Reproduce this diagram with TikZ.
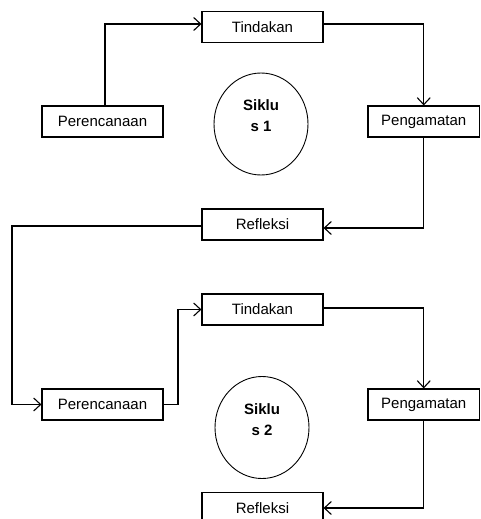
\documentclass[tikz,border=0pt]{standalone}
\usepackage{fontspec}
\setmainfont{Liberation Sans}
\usetikzlibrary{arrows.meta,shapes.geometric}
\begin{document}
\begin{tikzpicture}[x=1pt,y=-1pt,
  box/.style={draw,line width=1.1pt,minimum width=121pt,minimum height=31pt,inner sep=0pt,font=\fontsize{15}{18}\selectfont},
  rbox/.style={box,minimum width=111.5pt},
  cyc/.style={draw,line width=0.9pt,ellipse,minimum width=94pt,minimum height=102pt,inner sep=0pt},
  cyctext/.style={align=center,inner sep=0pt,font=\fontsize{15}{21}\selectfont\bfseries},
  arr/.style={line width=1.1pt,-{Straight Barb[length=7pt,width=13pt,line width=1.1pt]}}]
\useasboundingbox (0,0) rectangle (480,519);
% cycle 1
\node[box] (T1) at (262.5,27) {Tindakan};
\node[box] (P1) at (102.5,121.5) {Perencanaan};
\node[rbox] (G1) at (423.75,121.5) {Pengamatan};
\node[box] (R1) at (262.5,224.5) {Refleksi};
\node[cyc] (E1) at (261,124) {};
\node[cyctext] (L1) at ([yshift=8pt]E1.center) {Siklu\\s 1};
% cycle 2
\node[box] (T2) at (262.5,309.5) {Tindakan};
\node[box] (P2) at (102.5,404.5) {Perencanaan};
\node[rbox] (G2) at (423.75,404.5) {Pengamatan};
\node[box] (R2) at (262.5,508) {Refleksi};
\node[cyc] (E2) at (262,427.5) {};
\node[cyctext] (L2) at ([yshift=8pt]E2.center) {Siklu\\s 2};
% connectors
\coordinate (c1) at (12,226);
\coordinate (c2) at (178,404.5);
\draw[arr] ([xshift=2.5pt]P1.north) |- ([yshift=3pt]T1.west);
\draw[arr] ([yshift=3pt]T1.east) -| (G1.north);
\draw[arr] (G1.south) |- ([yshift=-3.5pt]R1.east);
\draw[arr] ([yshift=-1.5pt]R1.west) -- (c1) |- (P2.west);
\draw[arr] (P2.east) -- (c2) |- (T2.west);
\draw[arr] ([yshift=1.5pt]T2.east) -| (G2.north);
\draw[arr] (G2.south) |- (R2.east);
\end{tikzpicture}
\end{document}
